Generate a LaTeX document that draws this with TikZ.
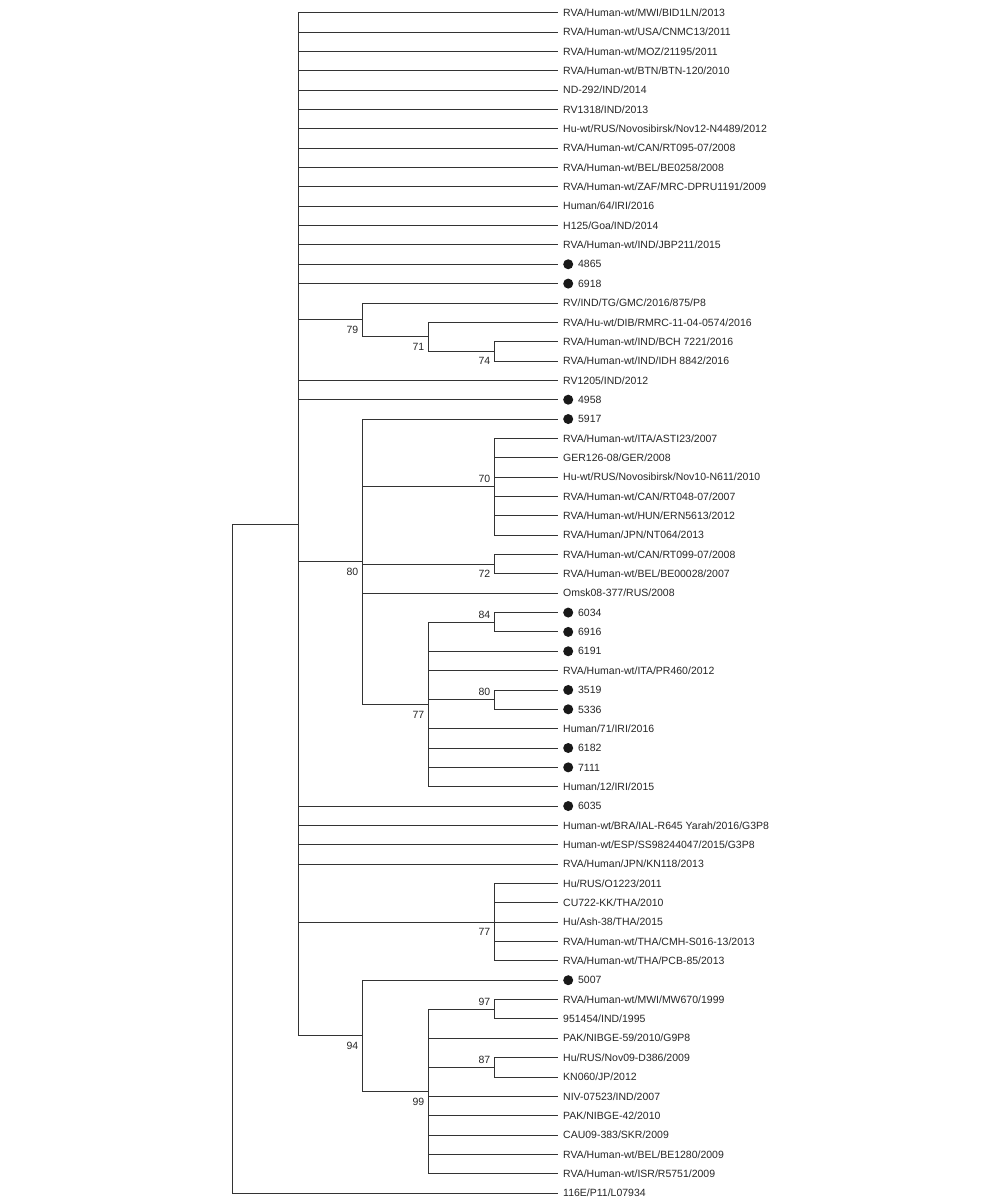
\documentclass[tikz,border=0pt]{standalone}
\usepackage{fontspec}
\setmainfont{Liberation Sans}
\usepackage{tikz}
\usetikzlibrary{positioning}

\tikzset{
  branch/.style={draw=black!80, line width=0.9pt},
  taxon/.style={inner sep=0pt, text height=7.4pt, text depth=0pt, text=black!85, font=\fontsize{10.5}{12}\selectfont},
  boot/.style={taxon},
  sample/.style={circle, fill=black!90, inner sep=0pt, minimum size=10pt},
}

\begin{document}
\begin{tikzpicture}[x=1pt, y=-1pt, node distance=5pt]
  \useasboundingbox (0,0) rectangle (1000,1204);

  % tips
  \coordinate (T1) at (558,12.7);
  \coordinate[below=19.35pt of T1] (T2);
  \coordinate[below=19.35pt of T2] (T3);
  \coordinate[below=19.35pt of T3] (T4);
  \coordinate[below=19.35pt of T4] (T5);
  \coordinate[below=19.35pt of T5] (T6);
  \coordinate[below=19.35pt of T6] (T7);
  \coordinate[below=19.35pt of T7] (T8);
  \coordinate[below=19.35pt of T8] (T9);
  \coordinate[below=19.35pt of T9] (T10);
  \coordinate[below=19.35pt of T10] (T11);
  \coordinate[below=19.35pt of T11] (T12);
  \coordinate[below=19.35pt of T12] (T13);
  \coordinate[below=19.35pt of T13] (T14);
  \coordinate[below=19.35pt of T14] (T15);
  \coordinate[below=19.35pt of T15] (T16);
  \coordinate[below=19.35pt of T16] (T17);
  \coordinate[below=19.35pt of T17] (T18);
  \coordinate[below=19.35pt of T18] (T19);
  \coordinate[below=19.35pt of T19] (T20);
  \coordinate[below=19.35pt of T20] (T21);
  \coordinate[below=19.35pt of T21] (T22);
  \coordinate[below=19.35pt of T22] (T23);
  \coordinate[below=19.35pt of T23] (T24);
  \coordinate[below=19.35pt of T24] (T25);
  \coordinate[below=19.35pt of T25] (T26);
  \coordinate[below=19.35pt of T26] (T27);
  \coordinate[below=19.35pt of T27] (T28);
  \coordinate[below=19.35pt of T28] (T29);
  \coordinate[below=19.35pt of T29] (T30);
  \coordinate[below=19.35pt of T30] (T31);
  \coordinate[below=19.35pt of T31] (T32);
  \coordinate[below=19.35pt of T32] (T33);
  \coordinate[below=19.35pt of T33] (T34);
  \coordinate[below=19.35pt of T34] (T35);
  \coordinate[below=19.35pt of T35] (T36);
  \coordinate[below=19.35pt of T36] (T37);
  \coordinate[below=19.35pt of T37] (T38);
  \coordinate[below=19.35pt of T38] (T39);
  \coordinate[below=19.35pt of T39] (T40);
  \coordinate[below=19.35pt of T40] (T41);
  \coordinate[below=19.35pt of T41] (T42);
  \coordinate[below=19.35pt of T42] (T43);
  \coordinate[below=19.35pt of T43] (T44);
  \coordinate[below=19.35pt of T44] (T45);
  \coordinate[below=19.35pt of T45] (T46);
  \coordinate[below=19.35pt of T46] (T47);
  \coordinate[below=19.35pt of T47] (T48);
  \coordinate[below=19.35pt of T48] (T49);
  \coordinate[below=19.35pt of T49] (T50);
  \coordinate[below=19.35pt of T50] (T51);
  \coordinate[below=19.35pt of T51] (T52);
  \coordinate[below=19.35pt of T52] (T53);
  \coordinate[below=19.35pt of T53] (T54);
  \coordinate[below=19.35pt of T54] (T55);
  \coordinate[below=19.35pt of T55] (T56);
  \coordinate[below=19.35pt of T56] (T57);
  \coordinate[below=19.35pt of T57] (T58);
  \coordinate[below=19.35pt of T58] (T59);
  \coordinate[below=19.35pt of T59] (T60);
  \coordinate[below=19.35pt of T60] (T61);
  \coordinate[below=19.35pt of T61] (T62);

  % internal nodes
  \coordinate (R)    at (232,858.65);
  \coordinate (N0)   at (298,524.25);
  \coordinate (N79)  at (362,319.9);
  \coordinate (N71)  at (428,336.8);
  \coordinate (N74)  at (494,351.3);
  \coordinate (N80a) at (362,561.75);
  \coordinate (N70)  at (494,486.8);
  \coordinate (N72)  at (494,564.2);
  \coordinate (N77a) at (428,704.45);
  \coordinate (N84)  at (494,622.2);
  \coordinate (N80b) at (494,699.6);
  \coordinate (N77b) at (494,922.15);
  \coordinate (N94)  at (362,1035.8);
  \coordinate (N99)  at (428,1091.45);
  \coordinate (N97)  at (494,1009.2);
  \coordinate (N87)  at (494,1067.3);

  % taxa
  \node[taxon, right=of T1]  (L1)  {RVA/Human-wt/MWI/BID1LN/2013};
  \node[taxon, right=of T2]  (L2)  {RVA/Human-wt/USA/CNMC13/2011};
  \node[taxon, right=of T3]  (L3)  {RVA/Human-wt/MOZ/21195/2011};
  \node[taxon, right=of T4]  (L4)  {RVA/Human-wt/BTN/BTN-120/2010};
  \node[taxon, right=of T5]  (L5)  {ND-292/IND/2014};
  \node[taxon, right=of T6]  (L6)  {RV1318/IND/2013};
  \node[taxon, right=of T7]  (L7)  {Hu-wt/RUS/Novosibirsk/Nov12-N4489/2012};
  \node[taxon, right=of T8]  (L8)  {RVA/Human-wt/CAN/RT095-07/2008};
  \node[taxon, right=of T9]  (L9)  {RVA/Human-wt/BEL/BE0258/2008};
  \node[taxon, right=of T10] (L10) {RVA/Human-wt/ZAF/MRC-DPRU1191/2009};
  \node[taxon, right=of T11] (L11) {Human/64/IRI/2016};
  \node[taxon, right=of T12] (L12) {H125/Goa/IND/2014};
  \node[taxon, right=of T13] (L13) {RVA/Human-wt/IND/JBP211/2015};
  \node[sample, right=of T14] (D14) {};
  \node[taxon, right=4.5pt of D14] (L14) {4865};
  \node[sample, right=of T15] (D15) {};
  \node[taxon, right=4.5pt of D15] (L15) {6918};
  \node[taxon, right=of T16] (L16) {RV/IND/TG/GMC/2016/875/P8};
  \node[taxon, right=of T17] (L17) {RVA/Hu-wt/DIB/RMRC-11-04-0574/2016};
  \node[taxon, right=of T18] (L18) {RVA/Human-wt/IND/BCH 7221/2016};
  \node[taxon, right=of T19] (L19) {RVA/Human-wt/IND/IDH 8842/2016};
  \node[taxon, right=of T20] (L20) {RV1205/IND/2012};
  \node[sample, right=of T21] (D21) {};
  \node[taxon, right=4.5pt of D21] (L21) {4958};
  \node[sample, right=of T22] (D22) {};
  \node[taxon, right=4.5pt of D22] (L22) {5917};
  \node[taxon, right=of T23] (L23) {RVA/Human-wt/ITA/ASTI23/2007};
  \node[taxon, right=of T24] (L24) {GER126-08/GER/2008};
  \node[taxon, right=of T25] (L25) {Hu-wt/RUS/Novosibirsk/Nov10-N611/2010};
  \node[taxon, right=of T26] (L26) {RVA/Human-wt/CAN/RT048-07/2007};
  \node[taxon, right=of T27] (L27) {RVA/Human-wt/HUN/ERN5613/2012};
  \node[taxon, right=of T28] (L28) {RVA/Human/JPN/NT064/2013};
  \node[taxon, right=of T29] (L29) {RVA/Human-wt/CAN/RT099-07/2008};
  \node[taxon, right=of T30] (L30) {RVA/Human-wt/BEL/BE00028/2007};
  \node[taxon, right=of T31] (L31) {Omsk08-377/RUS/2008};
  \node[sample, right=of T32] (D32) {};
  \node[taxon, right=4.5pt of D32] (L32) {6034};
  \node[sample, right=of T33] (D33) {};
  \node[taxon, right=4.5pt of D33] (L33) {6916};
  \node[sample, right=of T34] (D34) {};
  \node[taxon, right=4.5pt of D34] (L34) {6191};
  \node[taxon, right=of T35] (L35) {RVA/Human-wt/ITA/PR460/2012};
  \node[sample, right=of T36] (D36) {};
  \node[taxon, right=4.5pt of D36] (L36) {3519};
  \node[sample, right=of T37] (D37) {};
  \node[taxon, right=4.5pt of D37] (L37) {5336};
  \node[taxon, right=of T38] (L38) {Human/71/IRI/2016};
  \node[sample, right=of T39] (D39) {};
  \node[taxon, right=4.5pt of D39] (L39) {6182};
  \node[sample, right=of T40] (D40) {};
  \node[taxon, right=4.5pt of D40] (L40) {7111};
  \node[taxon, right=of T41] (L41) {Human/12/IRI/2015};
  \node[sample, right=of T42] (D42) {};
  \node[taxon, right=4.5pt of D42] (L42) {6035};
  \node[taxon, right=of T43] (L43) {Human-wt/BRA/IAL-R645 Yarah/2016/G3P8};
  \node[taxon, right=of T44] (L44) {Human-wt/ESP/SS98244047/2015/G3P8};
  \node[taxon, right=of T45] (L45) {RVA/Human/JPN/KN118/2013};
  \node[taxon, right=of T46] (L46) {Hu/RUS/O1223/2011};
  \node[taxon, right=of T47] (L47) {CU722-KK/THA/2010};
  \node[taxon, right=of T48] (L48) {Hu/Ash-38/THA/2015};
  \node[taxon, right=of T49] (L49) {RVA/Human-wt/THA/CMH-S016-13/2013};
  \node[taxon, right=of T50] (L50) {RVA/Human-wt/THA/PCB-85/2013};
  \node[sample, right=of T51] (D51) {};
  \node[taxon, right=4.5pt of D51] (L51) {5007};
  \node[taxon, right=of T52] (L52) {RVA/Human-wt/MWI/MW670/1999};
  \node[taxon, right=of T53] (L53) {951454/IND/1995};
  \node[taxon, right=of T54] (L54) {PAK/NIBGE-59/2010/G9P8};
  \node[taxon, right=of T55] (L55) {Hu/RUS/Nov09-D386/2009};
  \node[taxon, right=of T56] (L56) {KN060/JP/2012};
  \node[taxon, right=of T57] (L57) {NIV-07523/IND/2007};
  \node[taxon, right=of T58] (L58) {PAK/NIBGE-42/2010};
  \node[taxon, right=of T59] (L59) {CAU09-383/SKR/2009};
  \node[taxon, right=of T60] (L60) {RVA/Human-wt/BEL/BE1280/2009};
  \node[taxon, right=of T61] (L61) {RVA/Human-wt/ISR/R5751/2009};
  \node[taxon, right=of T62] (L62) {116E/P11/L07934};

  % bootstrap values
  \node[boot, below left=6pt and 3.5pt of N79]  (B79)  {79};
  \node[boot, below left=6pt and 3.5pt of N71]  (B71)  {71};
  \node[boot, below left=6pt and 3.5pt of N74]  (B74)  {74};
  \node[boot, above left=4pt and 3.5pt of N70]  (B70)  {70};
  \node[boot, below left=6pt and 3.5pt of N80a] (B80a) {80};
  \node[boot, below left=6pt and 3.5pt of N72]  (B72)  {72};
  \node[boot, above left=4pt and 3.5pt of N84]  (B84)  {84};
  \node[boot, above left=4pt and 3.5pt of N80b] (B80b) {80};
  \node[boot, below left=6pt and 3.5pt of N77a] (B77a) {77};
  \node[boot, below left=6pt and 3.5pt of N77b] (B77b) {77};
  \node[boot, below left=6pt and 3.5pt of N94]  (B94)  {94};
  \node[boot, below left=6pt and 3.5pt of N99]  (B99)  {99};
  \node[boot, above left=4pt and 3.5pt of N97]  (B97)  {97};
  \node[boot, above left=4pt and 3.5pt of N87]  (B87)  {87};

  % branches
  \draw[branch] (R) |- (N0) (R) |- (T62);
  \draw[branch] (N0) |- (T1) (N0) |- (T2) (N0) |- (T3) (N0) |- (T4) (N0) |- (T5);
  \draw[branch] (N0) |- (T6) (N0) |- (T7) (N0) |- (T8) (N0) |- (T9) (N0) |- (T10);
  \draw[branch] (N0) |- (T11) (N0) |- (T12) (N0) |- (T13) (N0) |- (T14) (N0) |- (T15);
  \draw[branch] (N0) |- (N79) (N0) |- (T20) (N0) |- (T21) (N0) |- (N80a);
  \draw[branch] (N0) |- (T42) (N0) |- (T43) (N0) |- (T44) (N0) |- (T45);
  \draw[branch] (N0) |- (N77b) (N0) |- (N94);
  \draw[branch] (N79) |- (T16) (N79) |- (N71);
  \draw[branch] (N71) |- (T17) (N71) |- (N74);
  \draw[branch] (N74) |- (T18) (N74) |- (T19);
  \draw[branch] (N80a) |- (T22) (N80a) |- (N70) (N80a) |- (N72) (N80a) |- (T31) (N80a) |- (N77a);
  \draw[branch] (N70) |- (T23) (N70) |- (T24) (N70) |- (T25) (N70) |- (T26) (N70) |- (T27) (N70) |- (T28);
  \draw[branch] (N72) |- (T29) (N72) |- (T30);
  \draw[branch] (N77a) |- (N84) (N77a) |- (T34) (N77a) |- (T35) (N77a) |- (N80b);
  \draw[branch] (N77a) |- (T38) (N77a) |- (T39) (N77a) |- (T40) (N77a) |- (T41);
  \draw[branch] (N84) |- (T32) (N84) |- (T33);
  \draw[branch] (N80b) |- (T36) (N80b) |- (T37);
  \draw[branch] (N77b) |- (T46) (N77b) |- (T47) (N77b) |- (T48) (N77b) |- (T49) (N77b) |- (T50);
  \draw[branch] (N94) |- (T51) (N94) |- (N99);
  \draw[branch] (N99) |- (N97) (N99) |- (T54) (N99) |- (N87) (N99) |- (T57);
  \draw[branch] (N99) |- (T58) (N99) |- (T59) (N99) |- (T60) (N99) |- (T61);
  \draw[branch] (N97) |- (T52) (N97) |- (T53);
  \draw[branch] (N87) |- (T55) (N87) |- (T56);
\end{tikzpicture}
\end{document}
